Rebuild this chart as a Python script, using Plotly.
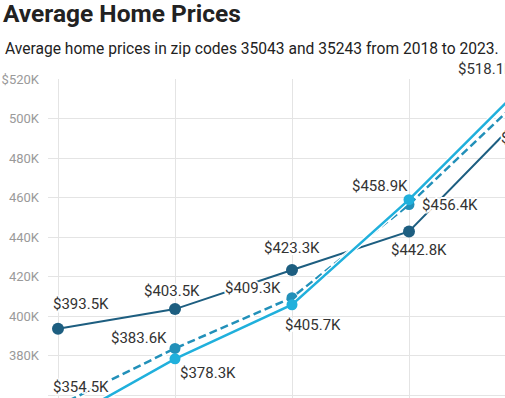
import plotly.graph_objects as go

# ---------------- data ----------------
years = [2018, 2019, 2020, 2021, 2022]
zip_a_solid_dark = [393500, 403500, 423300, 442800, 503400]
zip_b_dashed = [354500, 383600, 409300, 456400, 512600]
zip_c_solid_light = [345000, 378300, 405700, 458900, 518100]
label_text = lambda v: "$%.1fK" % (v / 1000)

y_tick_vals = [360000, 380000, 400000, 420000, 440000, 460000, 480000, 500000, 520000]
y_tick_text = ["360K", "380K", "400K", "420K", "440K", "460K", "480K", "500K", "$520K"]

title_text = "Average Home Prices"
subtitle_text = "Average home prices in zip codes 35043 and 35243 from 2018 to 2023."

# ---------------- style ----------------
W, H = 505, 398
ML, MT = 48, 79
FONT = "Roboto"
C_DARK = "#1d5e80"
C_DASH = "#2290b9"
C_LIGHT = "#20b0dc"
TXT = "#333333"
HALO = ("2px 0 0 #fff, -2px 0 0 #fff, 0 2px 0 #fff, 0 -2px 0 #fff, "
        "1.5px 1.5px 0 #fff, -1.5px -1.5px 0 #fff, 1.5px -1.5px 0 #fff, -1.5px 1.5px 0 #fff")

x_range = [2018 - 10 / 117, 2018 + (W - 58) / 117]
y_range = [520000 - (H - MT) / 1.975 * 1000, 520000]


def in_range(v, r):
    return r[0] <= v <= r[1]


def frac(v, r):
    return (v - r[0]) / (r[1] - r[0])


# label offsets (pixels, label centre relative to the point), keyed by (series, year index)
label_offsets = {
    ("dark", 0): (23, 25), ("dark", 1): (-3, 18), ("dark", 2): (0, 22), ("dark", 3): (10, -19),
    ("dark", 4): (3, -26),
    ("dash", 0): (23, 19), ("dash", 1): (-36, 10), ("dash", 2): (-39, 10), ("dash", 3): (41, 0),
    ("dash", 4): (42, 0),
    ("light", 0): (30, -18), ("light", 1): (33, -14), ("light", 2): (21, -20), ("light", 3): (-29, 14),
    ("light", 4): (-40, 14),
}

series = {
    "dark": (zip_a_solid_dark, C_DARK, 12),
    "dash": (zip_b_dashed, C_DASH, 11),
    "light": (zip_c_solid_light, C_LIGHT, 11),
}

fig = go.Figure()

# dark series
v, c, ms = series["dark"]
fig.add_trace(go.Scatter(x=years, y=v, mode="lines+markers",
                         line=dict(color=c, width=2), marker=dict(size=ms, color=c),
                         hoverinfo="skip", showlegend=False))
# dashed series (with halo)
v, c, ms = series["dash"]
fig.add_trace(go.Scatter(x=years, y=v, mode="lines", line=dict(color="white", width=5),
                         hoverinfo="skip", showlegend=False))
fig.add_trace(go.Scatter(x=years, y=v, mode="lines+markers",
                         line=dict(color=c, width=2.5, dash="8px,4px"), marker=dict(size=ms, color=c),
                         hoverinfo="skip", showlegend=False))
# light series (with halo)
v, c, ms = series["light"]
fig.add_trace(go.Scatter(x=years, y=v, mode="lines", line=dict(color="white", width=5),
                         hoverinfo="skip", showlegend=False))
fig.add_trace(go.Scatter(x=years, y=v, mode="lines+markers",
                         line=dict(color=c, width=2.5), marker=dict(size=ms, color=c),
                         hoverinfo="skip", showlegend=False))

# value labels (anchors outside the visible axis range are mapped to paper coords)
for (s, i), (dx, dy) in label_offsets.items():
    vals = series[s][0]
    xv, yv = years[i], vals[i]
    if in_range(xv, x_range):
        xref, xpos = "x", xv
    else:
        xref, xpos = "paper", frac(xv, x_range)
    if in_range(yv, y_range):
        yref, ypos = "y", yv
    else:
        yref, ypos = "paper", frac(yv, y_range)
    fig.add_annotation(x=xpos, y=ypos, xref=xref, yref=yref, text=label_text(yv),
                       showarrow=False, xanchor="center", yanchor="middle",
                       xshift=dx, yshift=dy,
                       font=dict(family=FONT, size=15, color=TXT, shadow=HALO))

fig.add_annotation(xref="paper", yref="paper", x=(3 - ML) / (W - ML), y=(H - 48.5) / (H - MT),
                   xanchor="left", yanchor="middle", showarrow=False, text=subtitle_text,
                   font=dict(family=FONT, size=15.6, color="#222222"))

fig.update_layout(
    width=W, height=H,
    margin=dict(l=ML, r=0, t=MT, b=0, pad=0),
    paper_bgcolor="white", plot_bgcolor="white",
    title=dict(text=title_text, x=3 / W, xanchor="left", xref="container",
               y=1 - 5 / H, yanchor="top", yref="container",
               font=dict(family=FONT, size=24.5, color="#222222", weight=700)),
    xaxis=dict(range=x_range, tickvals=years[:4], showticklabels=False, showgrid=True,
               gridcolor="#e4e4e4", gridwidth=1, zeroline=False, showline=False, ticks=""),
    yaxis=dict(range=y_range, tickvals=y_tick_vals, ticktext=y_tick_text, showgrid=True,
               gridcolor="#e4e4e4", gridwidth=1, zeroline=False, showline=False,
               ticks="", ticklabelstandoff=8,
               tickfont=dict(family=FONT, size=13, color="#9a9a9a")),
    font=dict(family=FONT),
)

fig.write_html("out.html", config={"displayModeBar": False},
               post_script="document.body.style.margin='0px';")
